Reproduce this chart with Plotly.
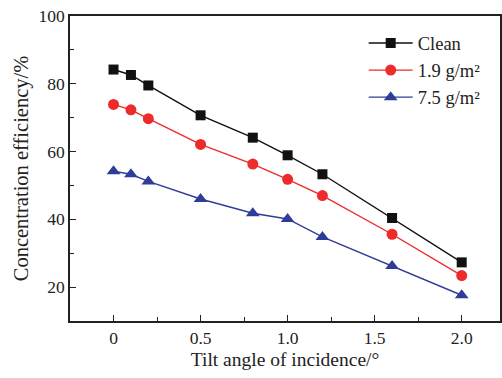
import plotly.graph_objects as go

x = [0, 0.1, 0.2, 0.5, 0.8, 1.0, 1.2, 1.6, 2.0]
clean = [84.2, 82.6, 79.5, 70.7, 64.1, 58.9, 53.3, 40.4, 27.3]
dust19 = [73.9, 72.3, 69.7, 62.1, 56.3, 51.8, 47.0, 35.6, 23.4]
dust75 = [54.2, 53.3, 51.2, 46.0, 41.8, 40.1, 34.8, 26.2, 17.6]
names = ["Clean", "1.9 g/m²", "7.5 g/m²"]

FONT = "Liberation Serif"
fig = go.Figure()
styles = [("#111111", "square", 10), ("#EE2B2B", "circle", 11), ("#2E3D98", "triangle-up", 12)]
for ys, name, (c, sym, sz) in zip([clean, dust19, dust75], names, styles):
    fig.add_trace(go.Scatter(x=x, y=ys, name=name, mode="lines+markers",
                             line=dict(color=c, width=1.4),
                             marker=dict(symbol=sym, size=sz, color=c)))

fig.update_layout(
    width=502, height=378,
    margin=dict(l=70, r=0, t=16, b=57),
    paper_bgcolor="white", plot_bgcolor="white",
    font=dict(family=FONT, size=17, color="#222222"),
    showlegend=True,
    legend=dict(x=0.683, y=0.972, xanchor="left", yanchor="top",
                font=dict(family=FONT, size=18.5, color="#222222"),
                bgcolor="rgba(0,0,0,0)", tracegroupgap=0, itemwidth=44),
)
fig.update_xaxes(range=[-0.25, 2.22], tickvals=[0, 0.5, 1.0, 1.5, 2.0],
                 ticktext=["0", "0.5", "1.0", "1.5", "2.0"],
                 ticks="inside", ticklen=6, tickwidth=1.2, tickcolor="#222",
                 minor=dict(tickvals=[0.25, 0.75, 1.25, 1.75], ticks="inside", ticklen=4, tickcolor="#222"),
                 showline=True, linecolor="#222", linewidth=1.5, mirror=True,
                 showgrid=False, zeroline=False,
                 title=dict(text="Tilt angle of incidence/°", font=dict(family=FONT, size=19.5), standoff=6),
                 tickfont=dict(family=FONT, size=17.5))
fig.update_yaxes(range=[10, 100], tickvals=[20, 40, 60, 80, 100],
                 ticks="inside", ticklen=6, tickwidth=1.2, tickcolor="#222",
                 minor=dict(tickvals=[30, 50, 70, 90], ticks="inside", ticklen=4, tickcolor="#222"),
                 showline=True, linecolor="#222", linewidth=1.5, mirror=True,
                 showgrid=False, zeroline=False,
                 title=dict(text="Concentration efficiency/%", font=dict(family=FONT, size=20.5), standoff=4),
                 tickfont=dict(family=FONT, size=17.5))
fig.write_html("out.html")
